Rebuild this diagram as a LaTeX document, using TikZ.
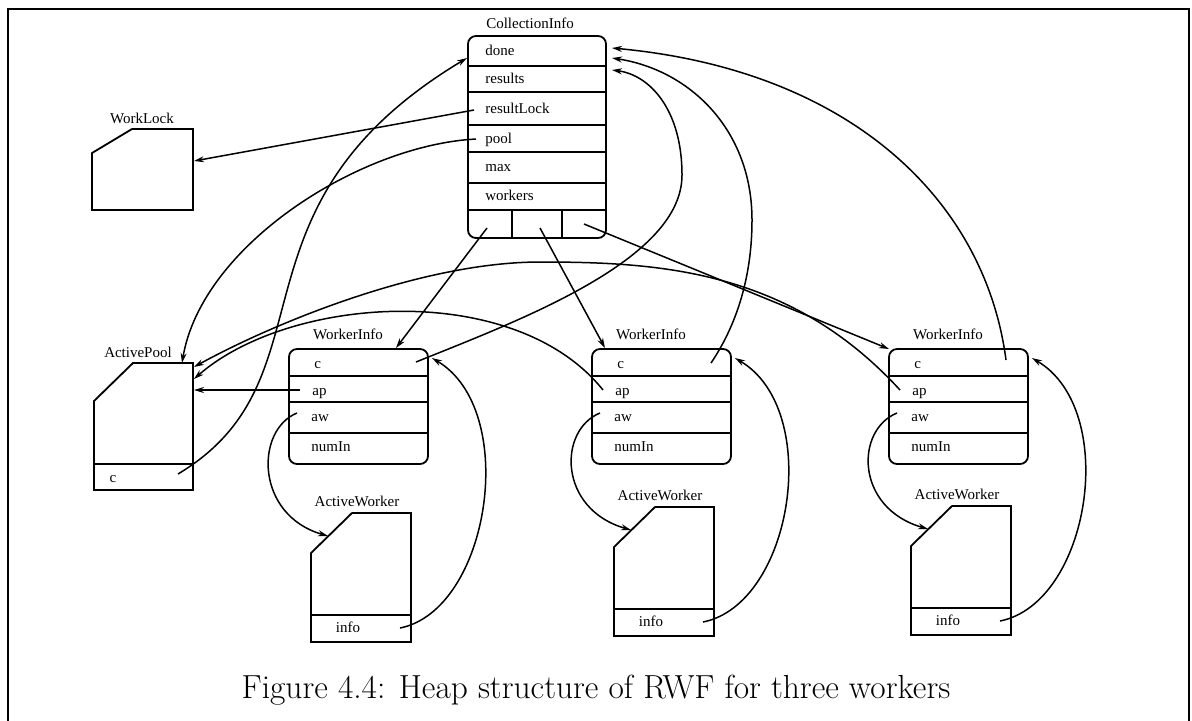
\documentclass[tikz,border=0pt]{standalone}
\usepackage{fontspec}
\newfontfamily\fieldfont{Liberation Serif}
\usetikzlibrary{arrows.meta}
\begin{document}
\begin{tikzpicture}[x=0.5pt,y=-0.5pt,
  boxline/.style={line width=0.9pt},
  fieldtxt/.style={font=\fieldfont\fontsize{7.5}{9}\selectfont, inner sep=0pt, anchor=mid west},
  rectitle/.style={font=\fieldfont\fontsize{7.5}{9}\selectfont, inner sep=0pt, anchor=mid},
  ptr/.style={line width=0.75pt, -{Stealth[length=5pt,width=3pt]}},
]
\useasboundingbox (0,0) rectangle (1192,720);
% page frame
\draw[line width=1.1pt] (8,725) -- (8,9) -- (1189,9) -- (1189,725);

% ---- CollectionInfo record ----
\draw[boxline, rounded corners=4pt] (468,36) rectangle (606,238);
\foreach \y in {66,92,125,152,183,210} \draw[boxline] (468,\y) -- (606,\y);
\draw[boxline] (512,210) -- (512,238) (562,210) -- (562,238);
\node[rectitle] (ci) at (530,24) {CollectionInfo};
\node[fieldtxt] (ci-done) at (485,51) {done};
\node[fieldtxt] (ci-results) at (485,79) {results};
\node[fieldtxt] (ci-rlock) at (485,109) {resultLock};
\node[fieldtxt] (ci-pool) at (485,139) {pool};
\node[fieldtxt] (ci-max) at (485,167) {max};
\node[fieldtxt] (ci-workers) at (485,196) {workers};
\coordinate (ci-done-l) at (467,58);
\coordinate (ci-done-r1) at (612,70);
\coordinate (ci-done-r2) at (612,58);
\coordinate (ci-done-r3) at (612,48);
\coordinate (ci-rlock-p) at (474,110);
\coordinate (ci-pool-p) at (476,139);
\coordinate (ci-w1) at (487,228);
\coordinate (ci-w2) at (540,228);
\coordinate (ci-w3) at (584,224);

% ---- WorkLock ----
\draw[boxline] (92,153) -- (132,129) -- (193,129) -- (193,210) -- (92,210) -- cycle;
\node[rectitle] (wl) at (142,119) {WorkLock};
\coordinate (wl-r) at (194,161);

% ---- ActivePool ----
\draw[boxline] (94,401) -- (133,363) -- (193,363) -- (193,490) -- (94,490) -- cycle;
\draw[boxline] (94,464) -- (193,464);
\node[rectitle] (ap) at (138,353) {ActivePool};
\node[rectitle] (ap-c) at (113,478) {c};
\coordinate (ap-c-p) at (178,474);
\coordinate (ap-top) at (182,363);
\coordinate (ap-r1) at (194,367);
\coordinate (ap-r2) at (194,379);
\coordinate (ap-r3) at (194,390);

% ---- WorkerInfo records ----
\foreach \i/\L in {1/289, 2/592, 3/889} {
  \draw[boxline, rounded corners=4pt] (\L,349) rectangle ++(139,115);
  \draw[boxline] (\L,376) -- ++(139,0) (\L,402) -- ++(139,0) (\L,433) -- ++(139,0);
  \node[rectitle] (wi\i) at (\L+59,335) {WorkerInfo};
  \node[fieldtxt] (wi\i-c) at (\L+25,364) {c};
  \node[fieldtxt] (wi\i-ap) at (\L+23,391) {ap};
  \node[fieldtxt] (wi\i-aw) at (\L+22,417) {aw};
  \node[fieldtxt] (wi\i-num) at (\L+22,447) {numIn};
  \coordinate (wi\i-ap-p) at (\L+11,390);
  \coordinate (wi\i-aw-p) at (\L+8,413);
  \coordinate (wi\i-tr) at (\L+143,358);
}
\coordinate (wi1-top) at (396,348);
\coordinate (wi2-top) at (605,348);
\coordinate (wi3-top) at (889,349);
\coordinate (wi1-c-p) at (416,362);
\coordinate (wi2-c-p) at (711,363);
\coordinate (wi3-c-p) at (1006,360);

% ---- ActiveWorker records ----
\foreach \j/\A/\T in {1/311/513, 2/614/507, 3/911/506} {
  \draw[boxline] (\A,\T+40) -- (\A+41,\T) -- (\A+100,\T) -- (\A+100,\T+129) -- (\A,\T+129) -- cycle;
  \draw[boxline] (\A,\T+102) -- ++(100,0);
  \node[rectitle] (aw\j) at (\A+46,\T-11) {ActiveWorker};
  \node[rectitle] (aw\j-info) at (\A+37,\T+115) {info};
  \coordinate (aw\j-cut) at (\A+17,\T+23);
  \coordinate (aw\j-info-p) at (\A+89,\T+115);
}

% ---- pointers out of CollectionInfo ----
\draw[ptr] (ci-rlock-p) -- (wl-r);
\draw[ptr] (ci-pool-p) .. controls (360,145) and (202,245) .. (ap-top);
\draw[ptr] (ci-w1) -- (wi1-top);
\draw[ptr] (ci-w2) -- (wi2-top);
\draw[ptr] (ci-w3) -- (wi3-top);

% ---- ActivePool.c back to CollectionInfo ----
\draw[ptr] (ap-c-p) .. controls (338,378) and (217,208) .. (ci-done-l);

% ---- WorkerInfo.ap to ActivePool ----
\draw[ptr] (wi1-ap-p) -- (ap-r3);
\draw[ptr] (wi2-ap-p) .. controls (515,280) and (290,295) .. (ap-r2);
\draw[ptr] (wi3-ap-p) .. controls (790,270) and (660,262) .. (540,262)
                      .. controls (420,262) and (270,325) .. (ap-r1);

% ---- WorkerInfo.c to CollectionInfo.done ----
\draw[ptr] (wi1-c-p) .. controls (520,320) and (682,260) .. (682,175)
                     .. controls (682,110) and (650,75) .. (ci-done-r1);
\draw[ptr] (wi2-c-p) .. controls (740,320) and (752,270) .. (752,220)
                     .. controls (752,130) and (690,70) .. (ci-done-r2);
\draw[ptr] (wi3-c-p) .. controls (985,200) and (850,70) .. (ci-done-r3);

% ---- WorkerInfo.aw to ActiveWorker, ActiveWorker.info back ----
\foreach \i/\L/\A/\T in {1/289/311/513, 2/592/614/507, 3/889/911/506} {
  \draw[ptr] (wi\i-aw-p) .. controls (\L-34,430) and (\L-34,\T+2) .. (aw\i-cut);
  \draw[ptr] (aw\i-info-p) .. controls (\A+179,\T+97) and (\A+209,410) .. (wi\i-tr);
}

% ---- caption ----
\node[font=\fontsize{16.7}{20}\selectfont, inner sep=0pt] (cap) at (596,690)
  {Figure 4.4: Heap structure of RWF for three workers};
\end{tikzpicture}
\end{document}
